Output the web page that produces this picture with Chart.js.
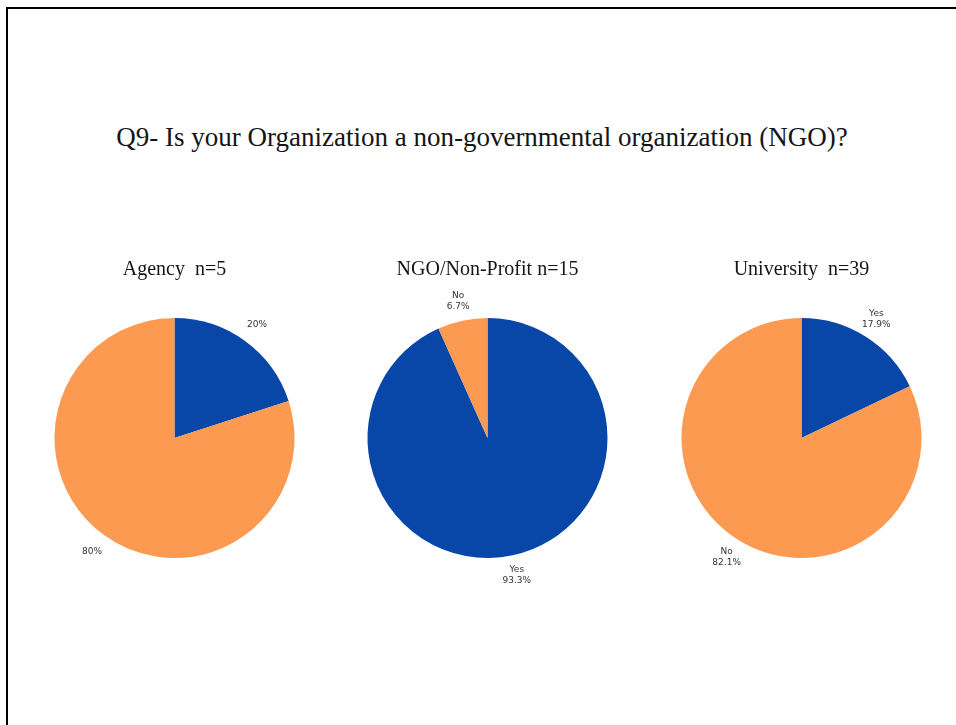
<!DOCTYPE html>
<html>
<head>
<meta charset="utf-8">
<script src="https://cdn.jsdelivr.net/npm/chart.js@4.4.1/dist/chart.umd.min.js"></script>
<style>
  html, body { margin: 0; padding: 0; background: #fff; }
  body { width: 956px; height: 725px; position: relative; overflow: hidden; }
  .frame {
    position: absolute; left: 6px; top: 7px; right: -10px; bottom: -10px;
    border-top: 2px solid #000; border-left: 2px solid #000;
  }
  .main-title {
    position: absolute; left: 0; width: 964px; top: 122px;
    text-align: center; font-family: 'Liberation Serif', serif;
    font-size: 27px; color: #151515;
  }
  .pie { position: absolute; top: 256px; width: 313px; height: 344px; }
</style>
</head>
<body>
<div class="frame"></div>
<div class="main-title">Q9- Is your Organization a non-governmental organization (NGO)?</div>
<div class="pie" style="left:18px"><canvas id="agency"></canvas></div>
<div class="pie" style="left:331px"><canvas id="ngo"></canvas></div>
<div class="pie" style="left:645px"><canvas id="university"></canvas></div>

<script>
const categories = ['Yes', 'No'];
const colors = ['#0847a8', '#fc9a52'];

const groups = ['Agency  n=5', 'NGO/Non-Profit n=15', 'University  n=39'];
const agencyValues = [20, 80];
const ngoValues = [93.3, 6.7];
const universityValues = [17.9, 82.1];

// Agency pie only shows the percentage, the other two show name + percentage
const agencyLabels = ['20%', '80%'];
const ngoLabels = ['Yes\n93.3%', 'No\n6.7%'];
const universityLabels = ['Yes\n17.9%', 'No\n82.1%'];

const outsideLabels = {
  id: 'outsideLabels',
  afterDatasetsDraw(chart, args, opts) {
    const ctx = chart.ctx;
    const meta = chart.getDatasetMeta(0);
    ctx.save();
    ctx.font = '9px "DejaVu Sans", sans-serif';
    ctx.fillStyle = '#333';
    ctx.textAlign = 'center';
    ctx.textBaseline = 'middle';
    meta.data.forEach((arc, i) => {
      const mid = (arc.startAngle + arc.endAngle) / 2;
      const r = arc.outerRadius * 1.17;
      const x = arc.x + Math.cos(mid) * r;
      const y = arc.y + Math.sin(mid) * r;
      const lines = opts.texts[i].split('\n');
      const lh = 11;
      lines.forEach((line, j) => {
        ctx.fillText(line, x, y + (j - (lines.length - 1) / 2) * lh);
      });
    });
    ctx.restore();
  }
};

function makePie(id, title, values, texts) {
  new Chart(document.getElementById(id), {
    type: 'pie',
    data: {
      labels: categories,
      datasets: [{
        data: values,
        backgroundColor: colors,
        borderWidth: 0,
      }],
    },
    options: {
      responsive: true,
      maintainAspectRatio: false,
      animation: false,
      layout: { padding: { top: 0, bottom: 42, left: 0, right: 0 } },
      plugins: {
        legend: { display: false },
        tooltip: { enabled: false },
        title: {
          display: true,
          text: title,
          color: '#151515',
          font: { family: 'Liberation Serif', size: 20, weight: 'normal', lineHeight: 1.2 },
          padding: { top: 2, bottom: 36 },
        },
        outsideLabels: { texts },
      },
    },
    plugins: [outsideLabels],
  });
}

makePie('agency', groups[0], agencyValues, agencyLabels);
makePie('ngo', groups[1], ngoValues, ngoLabels);
makePie('university', groups[2], universityValues, universityLabels);
</script>
</body>
</html>
